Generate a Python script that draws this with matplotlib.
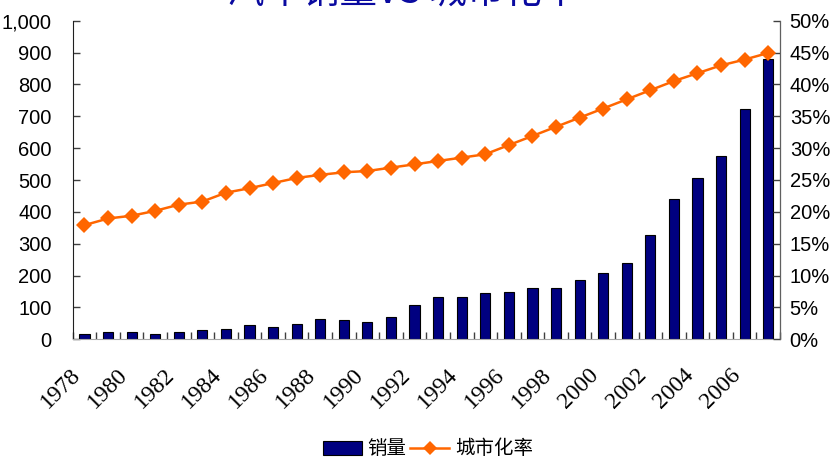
#!/usr/bin/env python3

import numpy as np
import matplotlib
matplotlib.use("Agg")
import matplotlib.pyplot as plt
from matplotlib.patches import Patch
from matplotlib.lines import Line2D
from matplotlib.ticker import FuncFormatter, PercentFormatter

years = list(range(1978, 2008))
# 汽车销量 (万辆)
sales = [16, 22, 22, 17, 22, 28, 33, 44, 38, 49,
         65, 60, 54, 70, 107, 134, 134, 144, 150, 160,
         160, 186, 207, 238, 327, 439, 507, 576, 722, 879]
# 城市化率 (%)
urban = [17.92, 18.96, 19.39, 20.16, 21.13, 21.62, 23.01, 23.71, 24.52, 25.32,
         25.81, 26.21, 26.41, 26.94, 27.46, 27.99, 28.51, 29.04, 30.48, 31.91,
         33.35, 34.78, 36.22, 37.66, 39.09, 40.53, 41.76, 42.99, 43.90, 44.94]

title = "汽车销量VS 城市化率"
bar_label = "销量"
line_label = "城市化率"

BAR_COLOR = "#000080"
LINE_COLOR = "#FF6600"
CJK = ["Noto Sans CJK SC", "DejaVu Sans"]
NUM_FONT = ["Liberation Sans Narrow", "Liberation Sans", "DejaVu Sans"]
YEAR_FONT = ["Liberation Serif", "DejaVu Serif"]


def main():
    fig = plt.figure(figsize=(8.34, 4.59), dpi=100)
    ax = fig.add_axes([72.7 / 834, 1 - 339.3 / 459, (780 - 72.7) / 834, (339.3 - 20.7) / 459])
    ax2 = ax.twinx()

    x = np.arange(len(years))
    ax.bar(x, sales, width=0.43, color=BAR_COLOR, edgecolor="black", linewidth=0.8, zorder=2)
    ax2.plot(x, urban, color=LINE_COLOR, linewidth=1.8, marker="D", markersize=8,
             markeredgewidth=0, zorder=3)

    ax.set_xlim(-0.5, len(years) - 0.5)
    ax.set_ylim(0, 1000)
    ax2.set_ylim(0, 50)

    ax.set_yticks(np.arange(0, 1001, 100))
    ax.yaxis.set_major_formatter(FuncFormatter(lambda v, p: f"{int(v):,}"))
    ax2.set_yticks(np.arange(0, 51, 5))
    ax2.yaxis.set_major_formatter(PercentFormatter(decimals=0))

    # year labels every other year, tick marks at category boundaries
    ax.set_xticks(x[::2])
    ax.set_xticklabels([str(y) for y in years[::2]], rotation=45, ha="right", va="top",
                       family=YEAR_FONT, fontsize=17)
    ax.set_xticks(np.arange(-0.5, len(years), 1), minor=True)
    ax.tick_params(axis="x", which="major", length=0, pad=18)
    ax.tick_params(axis="x", which="minor", direction="in", length=5, width=1, color="#404040")
    ax.tick_params(axis="y", direction="in", length=5, width=1, color="#404040", pad=15)
    ax2.tick_params(axis="y", direction="in", length=5, width=1, color="#404040", pad=7)

    for lab in ax.get_yticklabels() + ax2.get_yticklabels():
        lab.set_family(NUM_FONT)
        lab.set_fontsize(14.5)

    for a in (ax, ax2):
        a.spines["top"].set_visible(False)
    ax.spines["left"].set_color("#202020")
    ax.spines["bottom"].set_color("#A8A8A8")
    ax2.spines["right"].set_color("#606060")
    ax2.spines["left"].set_visible(False)
    ax2.spines["bottom"].set_visible(False)

    fig.text(403 / 834, 0.992, title, ha="center", va="baseline", fontsize=27,
             color="#0A0AA0", family=CJK)

    handles = [
        Patch(facecolor=BAR_COLOR, edgecolor="black", linewidth=0.8),
        Line2D([], [], color=LINE_COLOR, linewidth=1.8, marker="D", markersize=7,
               markeredgewidth=0),
    ]
    fig.legend(handles, [bar_label, line_label], loc="center", bbox_to_anchor=(428 / 834, 1 - 449 / 459),
               ncol=2, frameon=False, prop={"family": CJK, "size": 14},
               handlelength=2.0, handletextpad=0.3, columnspacing=0.2)

    fig.savefig("out.png", dpi=100)
    plt.close(fig)


if __name__ == "__main__":
    main()
